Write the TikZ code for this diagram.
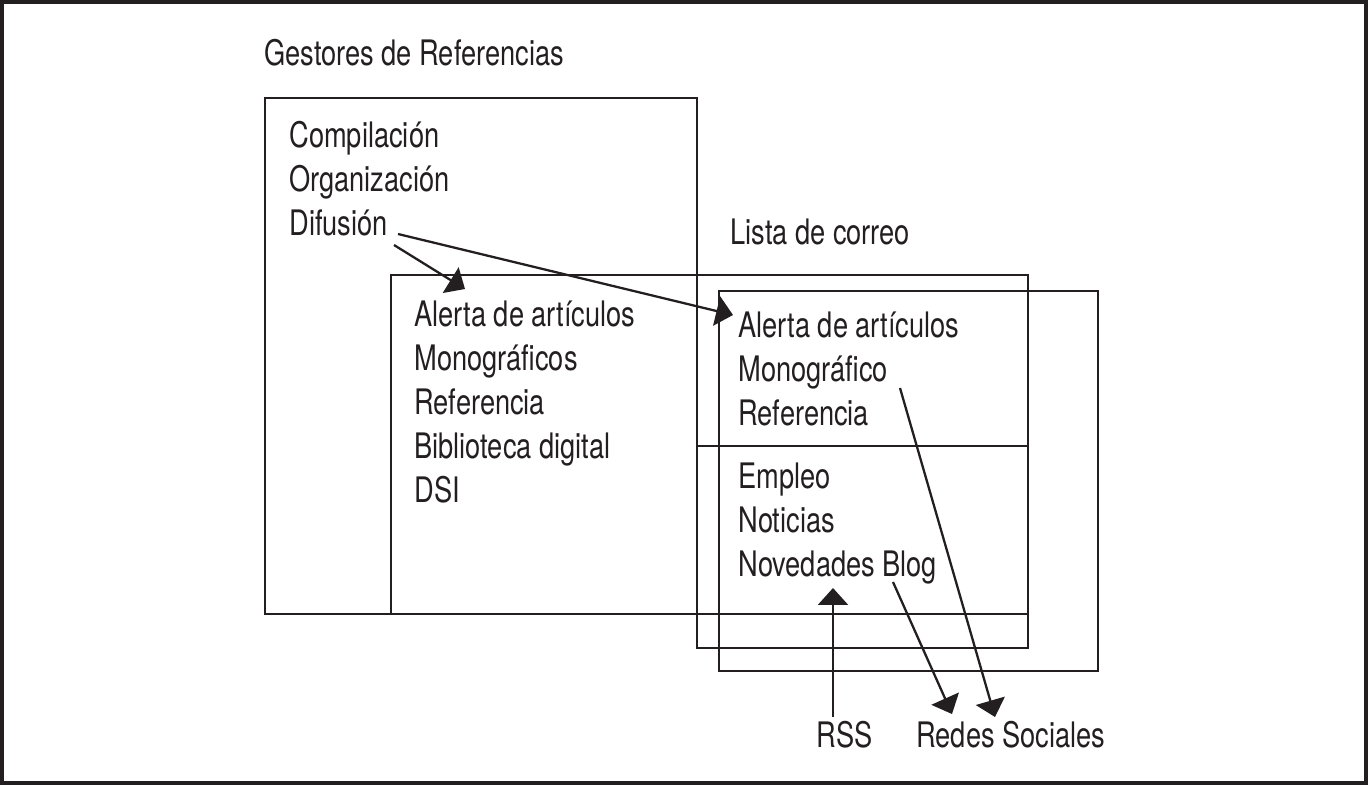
\documentclass[tikz,border=0pt]{standalone}
\usepackage{fontspec}
\setmainfont{TeX Gyre Heros}[FakeStretch=0.775]
\usetikzlibrary{arrows.meta,calc}
\definecolor{RFInk}{HTML}{231F20}
\tikzset{
  rfText/.style={anchor=base west, inner sep=0pt, text=RFInk,
    font=\fontsize{20}{24}\selectfont},
  rfBox/.style={draw=RFInk, line width=1.3pt},
  rfFrame/.style={draw=RFInk, line width=1.8pt},
  rfArrow/.style={-{Triangle[length=9.6pt, width=17pt]}, draw=RFInk, line width=1.3pt}
}
\begin{document}
\begin{tikzpicture}[x=0.02cm, y=-0.02cm]
  \useasboundingbox (0,0) rectangle (1368,785);
  \draw[rfFrame] (2,2) rectangle (1366,783);

  % recuadros
  \draw[rfBox] (265,98) rectangle (697,614);
  \draw[rfBox] (391,275) rectangle (1028,614);
  \draw[rfBox] (697,275) rectangle (1028,648);
  \draw[rfBox] (697,446) -- (1028,446);
  \draw[rfBox] (719,291) rectangle (1098,671);

  % textos
  \node[rfText] (gestores) at (264,65) {Gestores de Referencias};
  \node[rfText] (compila) at (289,147) {Compilación};
  \node[rfText] (organiza) at (289,191) {Organización};
  \node[rfText] (difusion) at (289,235) {Difusión};
  \node[rfText] (lista) at (730,244) {Lista de correo};

  \node[rfText] (alertaB) at (414,326) {Alerta de artículos};
  \node[rfText] (monoB) at (414,370) {Monográficos};
  \node[rfText] (refB) at (414,414) {Referencia};
  \node[rfText] (biblio) at (414,458) {Biblioteca digital};
  \node[rfText] (dsi) at (414,502) {DSI};

  \node[rfText] (alertaD) at (738,337) {Alerta de artículos};
  \node[rfText] (monoD) at (738,381) {Monográfico};
  \node[rfText] (refD) at (738,425) {Referencia};
  \node[rfText] (empleo) at (738,488) {Empleo};
  \node[rfText] (noticias) at (738,532) {Noticias};
  \node[rfText] (blog) at (738,576) {Novedades Blog};

  \node[rfText] (rss) at (816,747) {RSS};
  \node[rfText] (redes) at (916,747) {Redes Sociales};

  % flechas
  \draw[rfArrow] ($(difusion.base west)+(105,10)$) -- ($(alertaB.base west)+(51,-37)$);
  \draw[rfArrow] ($(difusion.base west)+(109,-1)$) -- ($(alertaD.base west)+(-5,-22)$);
  \draw[rfArrow] ($(rss.base west)+(17,-30)$) -- ($(blog.base west)+(95,12)$);
  \draw[rfArrow] ($(blog.base west)+(155,6)$) -- ($(redes.base west)+(36,-33)$);
  \draw[rfArrow] ($(monoD.base west)+(162,7)$) -- ($(redes.base west)+(79,-30)$);
\end{tikzpicture}
\end{document}
